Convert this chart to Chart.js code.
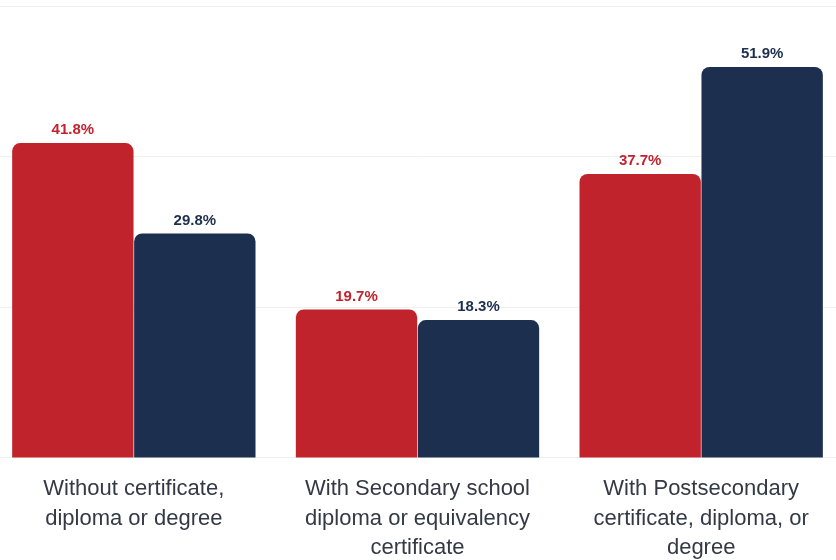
<!DOCTYPE html>
<html lang="en">
<head>
  <meta charset="UTF-8">
  <title>Education attainment</title>
  <script src="https://cdn.jsdelivr.net/npm/chart.js"></script>
  <style>
    html, body { margin: 0; padding: 0; background: #fff; overflow: hidden; }
    .wrap { position: absolute; left: -8px; top: 0; width: 851px; height: 571px; }
  </style>
</head>
<body>
<div class="wrap"><canvas id="chart"></canvas></div>
<script>
const categories = [
  ["Without certificate,", "diploma or degree"],
  ["With Secondary school", "diploma or equivalency", "certificate"],
  ["With Postsecondary", "certificate, diploma, or", "degree"]
];
const redValues = [41.8, 19.7, 37.7];
const navyValues = [29.8, 18.3, 51.9];
const red = '#c1232d';
const navy = '#1c2f4e';

// draws the "41.8%" labels above each bar
const valueLabels = {
  id: 'valueLabels',
  afterDatasetsDraw(chart) {
    const ctx = chart.ctx;
    ctx.save();
    ctx.font = 'bold 15px "Liberation Sans", Arial, sans-serif';
    ctx.textAlign = 'center';
    ctx.textBaseline = 'middle';
    chart.data.datasets.forEach((ds, i) => {
      chart.getDatasetMeta(i).data.forEach((bar, j) => {
        ctx.fillStyle = ds.backgroundColor;
        ctx.fillText(ds.data[j].toFixed(1) + '%', bar.x, bar.y - 13);
      });
    });
    ctx.restore();
  }
};

new Chart(document.getElementById('chart'), {
  type: 'bar',
  data: {
    labels: categories,
    datasets: [
      { label: 'A', data: redValues, backgroundColor: red },
      { label: 'B', data: navyValues, backgroundColor: navy }
    ]
  },
  options: {
    responsive: true,
    maintainAspectRatio: false,
    animation: false,
    layout: { padding: { top: 6, left: 0, right: 0, bottom: 0 } },
    datasets: {
      bar: {
        categoryPercentage: 0.86,
        barPercentage: 0.995,
        borderRadius: { topLeft: 8, topRight: 8 },
        borderSkipped: 'bottom'
      }
    },
    plugins: { legend: { display: false }, tooltip: { enabled: false } },
    scales: {
      x: {
        grid: { display: false },
        border: { display: false },
        ticks: {
          color: '#333945',
          padding: 9,
          maxRotation: 0,
          font: { family: '"Liberation Sans", Arial, sans-serif', size: 22, lineHeight: 1.32 }
        }
      },
      y: {
        min: 0, max: 60,
        ticks: { display: false, stepSize: 20 },
        border: { display: false },
        grid: { color: '#f0f0f0', drawTicks: false }
      }
    }
  },
  plugins: [valueLabels]
});
</script>
</body>
</html>
